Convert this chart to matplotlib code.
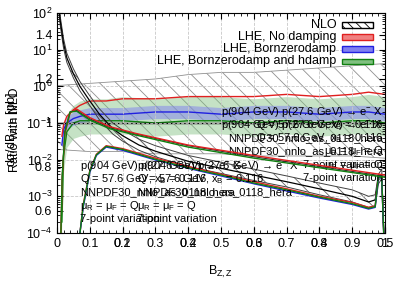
import numpy as np
import matplotlib.pyplot as plt
from matplotlib.patches import Rectangle

plt.rcParams['font.family'] = ['Liberation Sans', 'DejaVu Sans']
plt.rcParams['mathtext.default'] = 'regular'
plt.rcParams['hatch.linewidth'] = 0.6

# =============================================================================
# DATA
# =============================================================================

# main panel A (log scale, x 0..1)
nlo_x = [0.004, 0.01, 0.02, 0.03, 0.05, 0.07, 0.1, 0.13, 0.17, 0.2, 0.25, 0.3,
         0.4, 0.5, 0.6, 0.7, 0.8, 0.9, 0.95, 0.97, 0.98, 0.99, 1.0]
nlo_y = [200, 60, 15, 6, 2.2, 1.0, 0.4, 0.17, 0.07, 0.045, 0.025, 0.017,
         0.009, 0.0058, 0.0038, 0.0025, 0.0016, 0.001, 0.0007, 0.0008, 0.003, 0.004, 1e-5]
nlo_lo = [150, 45, 11, 4.5, 1.7, 0.75, 0.3, 0.12, 0.05, 0.032, 0.018, 0.012,
          0.0065, 0.0042, 0.0027, 0.0018, 0.0011, 0.0007, 0.0005, 0.00055, 0.0022, 0.003, 1e-5]
nlo_hi = [260, 80, 20, 8, 3.0, 1.35, 0.55, 0.24, 0.1, 0.065, 0.036, 0.024,
          0.013, 0.0085, 0.0055, 0.0036, 0.0023, 0.0015, 0.001, 0.0011, 0.004, 0.0055, 1e-5]

lhe_x = [0.07, 0.08, 0.1, 0.12, 0.15, 0.2, 0.3, 0.4, 0.5, 0.6, 0.7, 0.8,
         0.9, 0.95, 0.97, 0.98, 0.99, 1.0]
lhe_red = [1e-4, 6e-4, 0.005, 0.014, 0.024, 0.02, 0.011, 0.0065, 0.004, 0.0025, 0.0016, 0.001,
           0.00068, 0.0005, 0.00055, 0.004, 0.0032, 1e-5]
lhe_blue = [1e-4, 5e-4, 0.0045, 0.013, 0.022, 0.018, 0.0098, 0.0058, 0.0036, 0.0022, 0.0014, 0.0009,
            0.0006, 0.00045, 0.0005, 0.0035, 0.003, 1e-5]
lhe_green = [1e-4, 5.5e-4, 0.0048, 0.0135, 0.023, 0.019, 0.0102, 0.006, 0.0038, 0.0023, 0.0015, 0.00095,
             0.00063, 0.00047, 0.00052, 0.0037, 0.0031, 1e-5]

# main panel B (log scale, x 0..0.5)
b_x = [0.006, 0.008, 0.012, 0.02, 0.03, 0.05, 0.08, 0.12, 0.2, 0.3, 0.4, 0.5]
b_nlo = [1e-4, 0.004, 0.06, 0.2, 0.22, 0.13, 0.075, 0.05, 0.024, 0.012, 0.0065, 0.0035]
b_red = [1e-4, 0.003, 0.05, 0.19, 0.24, 0.14, 0.08, 0.052, 0.025, 0.013, 0.007, 0.0038]
b_green = [1e-4, 0.0035, 0.055, 0.2, 0.21, 0.12, 0.07, 0.047, 0.022, 0.011, 0.006, 0.0033]

# ratio panel (linear, x 0..1)
rat_x = [0.0, 0.1, 0.2, 0.3, 0.4, 0.5, 0.6, 0.7, 0.8, 0.9, 1.0]
rat_nlo_lo = [0.88, 0.87, 0.87, 0.86, 0.86, 0.86, 0.85, 0.85, 0.85, 0.85, 0.84]
rat_nlo_hi = [1.17, 1.18, 1.19, 1.2, 1.22, 1.23, 1.23, 1.24, 1.25, 1.26, 1.27]

r_x = [0.015, 0.02, 0.03, 0.05, 0.07, 0.1, 0.15, 0.2, 0.3, 0.4, 0.5, 0.6, 0.7, 0.8, 0.9, 0.95, 1.0]
r_red = [0.94, 0.99, 1.03, 1.06, 1.08, 1.1, 1.1, 1.11, 1.11, 1.12, 1.12, 1.12, 1.13, 1.12, 1.13, 1.14, 1.13]
r_blue = [0.9, 0.97, 1.0, 1.02, 1.03, 1.04, 1.04, 1.04, 1.05, 1.05, 1.04, 1.05, 1.05, 1.04, 1.05, 1.05, 1.04]
r_blue_lo = [0.87, 0.94, 0.97, 0.99, 1.0, 1.01, 1.01, 1.01, 1.02, 1.02, 1.01, 1.02, 1.02, 1.01, 1.02, 1.02, 1.01]
r_blue_hi = [0.93, 1.0, 1.03, 1.05, 1.06, 1.07, 1.07, 1.07, 1.08, 1.08, 1.07, 1.08, 1.08, 1.07, 1.08, 1.08, 1.07]
r_green = [0.55, 0.85, 0.96, 1.0, 1.01, 1.01, 1.01, 1.01, 1.0, 1.01, 1.01, 1.0, 1.01, 1.0, 1.01, 1.01, 1.0]
r_green_lo = [0.5, 0.78, 0.89, 0.93, 0.94, 0.95, 0.95, 0.95, 0.94, 0.95, 0.95, 0.94, 0.95, 0.94, 0.95, 0.95, 0.94]
r_green_hi = [0.6, 0.93, 1.04, 1.08, 1.1, 1.11, 1.11, 1.12, 1.11, 1.12, 1.12, 1.11, 1.12, 1.11, 1.12, 1.13, 1.12]

info_lines = ['p(904 GeV) p(27.6 GeV) → e$^{-}$ X',
              'Q = 57.6 GeV, x$_{B}$ = 0.116',
              'NNPDF30_nnlo_as_0118_hera',
              'μ$_{R}$ = μ$_{F}$ = Q',
              '7-point variation']

legend_labels = ['NLO', 'LHE, No damping', 'LHE, Bornzerodamp', 'LHE, Bornzerodamp and hdamp']

RED, BLUE, GREEN = '#e02020', '#2020e0', '#108010'
RED_F, BLUE_F, GREEN_F = '#f08080', '#8080f0', '#80c080'

# =============================================================================
# PLOT
# =============================================================================

fig = plt.figure(figsize=(4.07, 2.85), dpi=100)
rect = [0.140, 0.1825, 0.806, 0.772]

# ratio panel first (underneath)
axr = fig.add_axes(rect, frameon=False)
axr.set_xlim(0, 1)
axr.set_ylim(0.5, 1.5)
axr.fill_between(rat_x, rat_nlo_lo, rat_nlo_hi, facecolor='none', edgecolor='#909090',
                 hatch='\\\\', linewidth=0)
axr.plot(rat_x, rat_nlo_hi, color='#909090', lw=0.6)
axr.plot(rat_x, rat_nlo_lo, color='#909090', lw=0.6)
axr.fill_between(r_x, r_green_lo, r_green_hi, color=GREEN_F, alpha=0.45, lw=0)
axr.fill_between(r_x, r_blue_lo, r_blue_hi, color=BLUE_F, alpha=0.5, lw=0)
axr.plot(r_x, r_green, color=GREEN, lw=1)
axr.plot(r_x, r_blue, color=BLUE, lw=1)
axr.plot(r_x, r_red, color=RED, lw=1)
axr.axhline(1.0, color='black', lw=1)
axr.set_yticks([0.6, 0.8, 1.0, 1.2, 1.4])
axr.set_yticklabels(['0.6', '0.8', '1', '1.2', '1.4'])
axr.tick_params(axis='x', which='both', bottom=False, labelbottom=False)
axr.tick_params(axis='y', direction='in', length=4, labelsize=9, left=True, right=True)
axr.set_ylabel('Ratio with NLO', fontsize=9)

# main panel A
ax = fig.add_axes(rect)
ax.patch.set_alpha(0)
ax.set_yscale('log')
ax.set_xlim(0, 1)
ax.set_ylim(1e-4, 1e2)
ax.fill_between(nlo_x, nlo_lo, nlo_hi, facecolor='none', edgecolor='#606060',
                hatch='\\\\', linewidth=0)
ax.plot(nlo_x, nlo_lo, color='#404040', lw=0.7)
ax.plot(nlo_x, nlo_hi, color='#404040', lw=0.7)
ax.plot(nlo_x, nlo_y, color='black', lw=0.9)
ax.plot(lhe_x, lhe_red, color=RED, lw=1)
ax.plot(lhe_x, lhe_blue, color=BLUE, lw=1)
ax.plot(lhe_x, lhe_green, color=GREEN, lw=1)
ax.set_xticks(np.arange(0, 1.01, 0.1))
ax.set_xticklabels(['0', '0.1', '0.2', '0.3', '0.4', '0.5', '0.6', '0.7', '0.8', '0.9', '1'])
ax.set_xticks(np.arange(0, 1.001, 0.02), minor=True)
ax.tick_params(which='both', direction='in', top=True, right=True, labelsize=9)
ax.tick_params(which='major', length=4)
ax.tick_params(which='minor', length=2)
ax.grid(True, which='major', color='#c8c8c8', ls='--', lw=0.6)
ax.set_xlabel('$B_{Z,Z}$', fontsize=9, labelpad=10)
ax.set_ylabel('d$\\sigma$/d$B_{Z,E}$ [pb]', fontsize=9)
ax.yaxis.set_label_coords(-0.11, 0.47)
axr.yaxis.set_label_coords(-0.11, 0.47)

# main panel B
axb = fig.add_axes(rect, frameon=False)
axb.set_yscale('log')
axb.set_xlim(0, 0.5)
axb.set_ylim(1e-4, 1e2)
axb.plot(b_x, b_nlo, color='#303030', lw=0.8)
axb.plot(b_x, b_red, color=RED, lw=1)
axb.plot(b_x, b_green, color=GREEN, lw=1)
axb.set_xticks([0.1, 0.2, 0.3, 0.4, 0.5])
axb.set_xticklabels(['0.1', '0.2', '0.3', '0.4', '0.5'])
axb.tick_params(axis='x', direction='in', length=4, labelsize=9)
axb.tick_params(axis='y', which='both', left=False, labelleft=False)

# info texts
tr = ax.transAxes
line_h = 13.3 / 220
for x0, y0, ha in [(0.07, 0.305, 'left'), (0.244, 0.305, 'left'),
                   (0.994, 0.305 + 3 * line_h + 0.005, 'right'),
                   (0.994, 0.305 + 4 * line_h + 0.005, 'right')]:
    for k, line in enumerate(info_lines):
        ax.text(x0, y0 - k * line_h, line, transform=tr, ha=ha, va='center',
                fontsize=8, zorder=10)

# legend
legend_style = [dict(facecolor='white', edgecolor='black', hatch='\\\\\\\\'),
                dict(facecolor=RED_F, edgecolor=RED),
                dict(facecolor=BLUE_F, edgecolor=BLUE),
                dict(facecolor=GREEN_F, edgecolor=GREEN)]
for k, (lab, st) in enumerate(zip(legend_labels, legend_style)):
    yy = 0.945 - k * 0.055
    ax.text(0.851, yy, lab, transform=tr, ha='right', va='center', fontsize=9, zorder=10)
    ax.add_patch(Rectangle((0.869, yy - 0.013), 0.094, 0.026, transform=tr,
                           lw=1, zorder=10, clip_on=False, **st))

plt.savefig('out.png', dpi=100)
